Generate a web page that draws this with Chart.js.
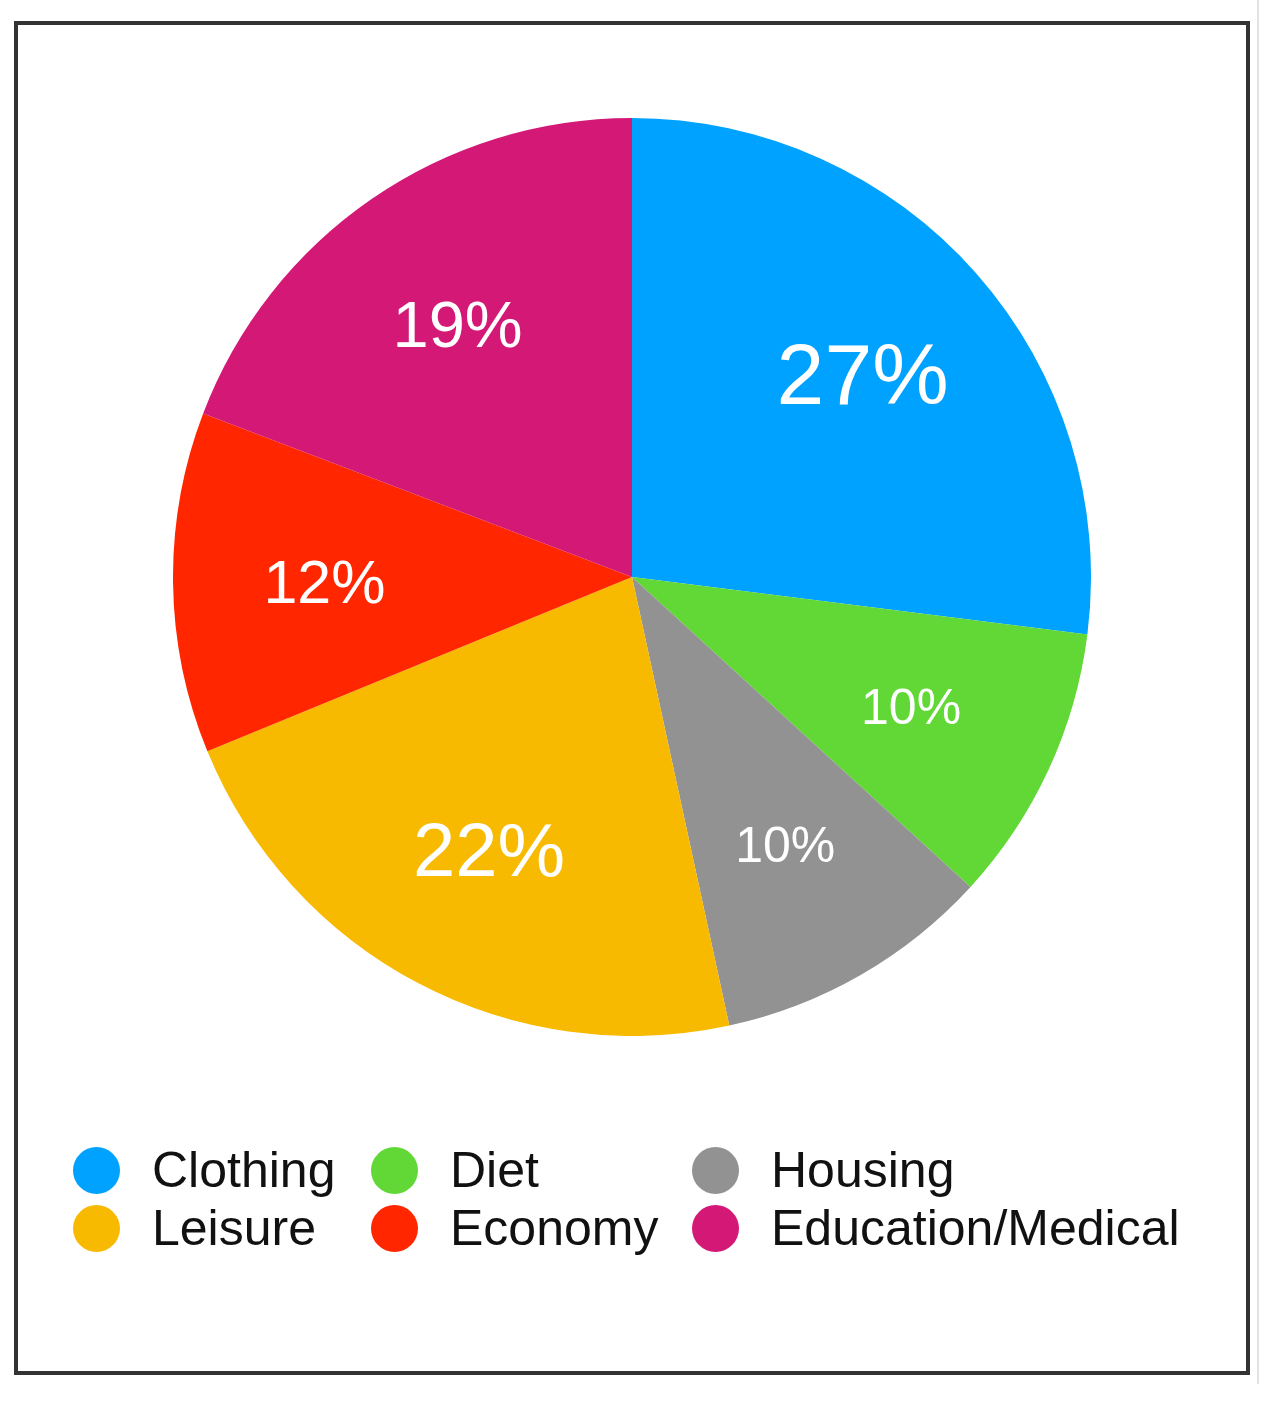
<!DOCTYPE html>
<html lang="en">
<head>
  <meta charset="UTF-8">
  <title>Spending Share</title>
  <script src="https://cdn.jsdelivr.net/npm/chart.js"></script>
  <style>
    body {
      margin: 0;
      width: 1275px;
      height: 1404px;
      background: #ffffff;
      font-family: 'Liberation Sans', Arial, sans-serif;
      position: relative;
      overflow: hidden;
    }

    .frame {
      position: absolute;
      left: 14px;
      top: 21px;
      width: 1236px;
      height: 1354px;
      box-sizing: border-box;
      border: 4px solid #333333;
    }

    .edge {
      position: absolute;
      left: 1257px;
      top: 0;
      width: 2px;
      height: 1384px;
      background: #e2e2e2;
    }

    .pie-box {
      position: absolute;
      left: 173px;
      top: 118px;
      width: 918px;
      height: 918px;
    }

    .legend {
      position: absolute;
      left: 73px;
      top: 1141px;
      display: grid;
      grid-template-columns: 298px 321px auto;
      grid-auto-rows: 58px;
    }

    .legend-item {
      display: flex;
      align-items: center;
      font-size: 50px;
      line-height: 58px;
      color: #111111;
      white-space: nowrap;
    }

    .legend-dot {
      width: 47px;
      height: 47px;
      border-radius: 50%;
      margin-right: 32px;
      flex: none;
    }
  </style>
</head>
<body>

  <div class="edge"></div>
  <div class="frame"></div>
  <div class="pie-box"><canvas id="shareChart"></canvas></div>
  <div class="legend" id="legend"></div>

  <script>
    const categories = ['Clothing', 'Diet', 'Housing', 'Leisure', 'Economy', 'Education/Medical'];
    const shares = [27, 9.8, 9.8, 22.2, 12, 19.2];
    const sliceColors = ['#00a2ff', '#61d836', '#929292', '#f8ba00', '#ff2600', '#d31876'];

    // font size of the % label inside each slice
    const labelSizes = [86, 50, 50, 76, 61, 65];

    // legend, built from the same arrays
    const legendEl = document.getElementById('legend');
    categories.forEach((name, i) => {
      const item = document.createElement('div');
      item.className = 'legend-item';
      const dot = document.createElement('span');
      dot.className = 'legend-dot';
      dot.style.background = sliceColors[i];
      item.appendChild(dot);
      item.appendChild(document.createTextNode(name));
      legendEl.appendChild(item);
    });

    const sliceLabels = {
      id: 'sliceLabels',
      afterDatasetsDraw(chart) {
        const ctx = chart.ctx;
        const meta = chart.getDatasetMeta(0);
        ctx.save();
        ctx.fillStyle = '#ffffff';
        ctx.textAlign = 'center';
        ctx.textBaseline = 'alphabetic';
        meta.data.forEach((arc, i) => {
          const p = arc.getProps(['x', 'y', 'startAngle', 'endAngle', 'outerRadius'], true);
          const mid = (p.startAngle + p.endAngle) / 2;
          const dist = p.outerRadius * 0.67;
          const size = labelSizes[i];
          ctx.font = size + "px 'Liberation Sans', Arial, sans-serif";
          const lx = p.x + Math.cos(mid) * dist;
          const ly = p.y + Math.sin(mid) * dist + size * 0.358;
          ctx.fillText(Math.round(shares[i]) + '%', lx, ly);
        });
        ctx.restore();
      }
    };

    new Chart(document.getElementById('shareChart'), {
      type: 'pie',
      data: {
        labels: categories,
        datasets: [{
          data: shares,
          backgroundColor: sliceColors,
          borderWidth: 0
        }]
      },
      options: {
        responsive: true,
        maintainAspectRatio: false,
        animation: false,
        layout: { padding: 0 },
        plugins: {
          legend: { display: false },
          tooltip: { enabled: false }
        }
      },
      plugins: [sliceLabels]
    });
  </script>

</body>
</html>
